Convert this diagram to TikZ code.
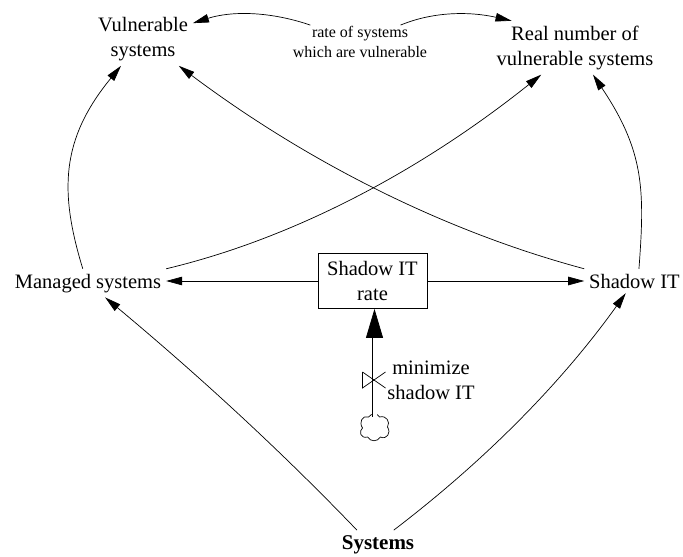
\documentclass[tikz,border=0pt]{standalone}
\usepackage{fontspec}
\setmainfont{Liberation Serif}
\usetikzlibrary{arrows.meta}
\begin{document}
\begin{tikzpicture}[x=1pt,y=-1pt,
  var/.style={font=\fontsize{20.5}{25}\selectfont, align=center, inner sep=2pt, outer sep=3pt},
  smalllabel/.style={font=\fontsize{16}{20}\selectfont, align=center, inner sep=1pt},
  ratebox/.style={draw, line width=0.8pt, font=\fontsize{20.5}{25}\selectfont, align=center,
                  minimum width=109pt, minimum height=55pt, inner sep=0pt},
  link/.style={line width=0.7pt, -{Triangle[length=16pt,width=8.5pt]}},
  pipe/.style={line width=0.7pt, double distance=4pt},
  flowhead/.style={line width=0.7pt, -{Triangle[length=29pt,width=17pt]}},
  thin/.style={line width=0.7pt},
]
\useasboundingbox (0,0) rectangle (683,557);

% variables
\node[var] (vs) at (143,39) {Vulnerable\\systems};
\node[var] (rn) at (575,47.7) {Real number of\\vulnerable systems};
\node[smalllabel] (rate) at (360,42) {rate of systems\\which are vulnerable};
\node[var, anchor=base] (ms) at (88,288) {Managed systems};
\node[var, anchor=base] (sit) at (634.5,288) {Shadow IT};
\node[ratebox] (sr) at (372.5,281) {Shadow IT\\rate};
\node[var, anchor=base, font=\fontsize{21}{25}\selectfont\bfseries] (sys) at (378,549) {Systems};
\node[var] (min) at (431,380.5) {minimize\\shadow IT};

% source cloud, valve and inflow pipe
\node[minimum width=28pt, minimum height=22pt, inner sep=0pt] (cloud) at (374.5,428) {};
\coordinate (valve) at (374.5,380);
\coordinate (flowbase) at (374.5,337);
\draw[thin, shift={(cloud)}]
  (-6,-11) .. controls (-3,-15) and (3,-15) .. (5,-11)
  .. controls (12,-13) and (16,-6) .. (13,-1)
  .. controls (17,5) and (12,12) .. (6,9)
  .. controls (3,14) and (-4,14) .. (-7,9)
  .. controls (-14,11) and (-16,3) .. (-12,0)
  .. controls (-16,-6) and (-12,-13) .. (-6,-11) -- cycle;
\draw[pipe] (cloud.north) -- (flowbase);
\draw[flowhead] (flowbase) -- (flowbase |- sr.south);
\draw[thin] ([shift={(-12,-8)}]valve) -- ([shift={(-12,8)}]valve) -- ([shift={(11,-8)}]valve);
\draw[thin] ([shift={(-12,-8)}]valve) -- ([shift={(11,8)}]valve);

% flows out of the rate
\draw[link] (sr.west) -- (sr.west -| ms.east);
\draw[link] (sr.east) -- (sr.east -| sit.west);

% causal links
\draw[link] (rate) .. controls (269,11) and (231,11) .. (vs);
\draw[link] (rate) .. controls (432,12) and (468,11) .. (rn.157);
\draw[link] (ms.110) .. controls (59,191) and (61,139) .. (vs);
\draw[link] (ms.north east) .. controls (291,239) and (418,173) .. (rn);
\draw[link] (sit.north west) .. controls (447,232) and (310,164) .. (vs);
\draw[link] (sit.70) .. controls (645,189) and (644,151) .. (rn);
\draw[link] (sys.146) .. controls (279,449) and (197,374) .. (ms);
\draw[link] (sys.42) .. controls (483,462) and (560,385) .. (sit);
\end{tikzpicture}
\end{document}
